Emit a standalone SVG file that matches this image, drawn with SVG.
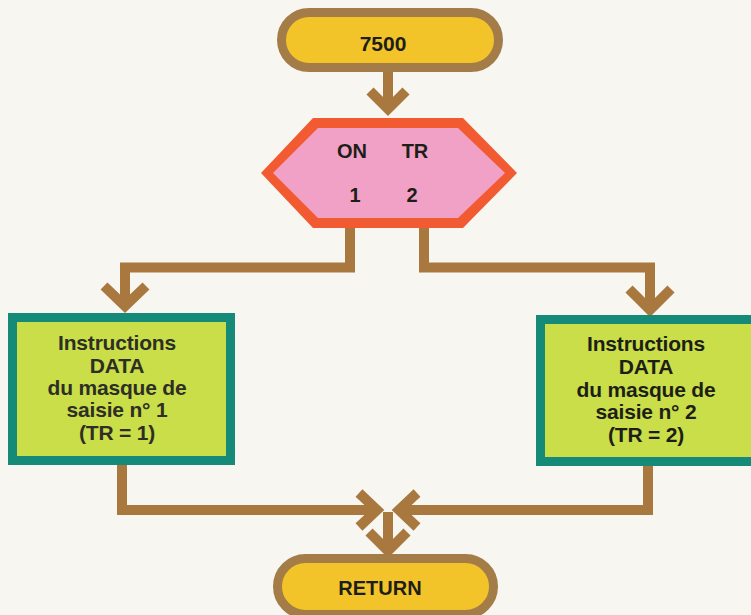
<svg xmlns="http://www.w3.org/2000/svg" width="751" height="615" viewBox="0 0 751 615">
  <style>
    .lbl { font-family: "Liberation Sans", Arial, sans-serif; font-weight: bold; text-anchor: middle; fill: #1e1e18; }
    .box-lbl { font-size: 21px; letter-spacing: -0.2px; }
    .soft { fill: #2e2e26; }
    .wire { fill: none; stroke: #a8783e; stroke-width: 10; stroke-linecap: butt; stroke-linejoin: miter; }
    .pill { fill: #f2c42a; stroke: #a47c48; stroke-width: 9; }
    .box { fill: #c9de48; stroke: #168a78; stroke-width: 9; }
  </style>
  <rect x="0" y="0" width="751" height="615" fill="#f7f6f1"/>

  <g id="connectors">
    <!-- start to decision -->
    <path class="wire" d="M388 72 V110"/>
    <path class="wire" d="M370 91 L388 109 L406 91"/>
    <!-- decision to branch 1 -->
    <path class="wire" d="M350 228 V267.5 H125 V305"/>
    <path class="wire" d="M104 286 L125 306 L146 286"/>
    <!-- decision to branch 2 -->
    <path class="wire" d="M424 228 V267.5 H650 V310"/>
    <path class="wire" d="M629 289 L650 310 L671 289"/>
    <!-- branch 1 to merge -->
    <path class="wire" d="M122 465 V510 H378"/>
    <path class="wire" d="M359 493 L377 510 L359 527"/>
    <!-- branch 2 to merge -->
    <path class="wire" d="M648 466 V510 H399"/>
    <path class="wire" d="M417 493 L399 510 L417 527"/>
    <!-- merge to return -->
    <path class="wire" d="M388 512 V551"/>
    <path class="wire" d="M369 532 L388 551 L407 532"/>
  </g>

  <g id="start">
    <rect class="pill" x="281.5" y="12.5" width="217" height="55" rx="27.5"/>
    <text class="lbl" x="383" y="51" font-size="21">7500</text>
  </g>

  <g id="decision">
    <polygon points="313,118 463,118 517,173 463,228 313,228 261,173" fill="#f25a32"/>
    <polygon points="318,128 458,128 505,173 458,218 318,218 273,173" fill="#f1a0c6"/>
    <text class="lbl" x="352" y="158" font-size="20">ON</text>
    <text class="lbl" x="415" y="158" font-size="20">TR</text>
    <text class="lbl" x="355" y="202" font-size="20">1</text>
    <text class="lbl" x="412" y="202" font-size="20">2</text>
  </g>

  <g id="branch1">
    <rect class="box" x="12.5" y="317.5" width="218" height="143"/>
    <text class="lbl box-lbl soft" x="117" y="350">Instructions</text>
    <text class="lbl box-lbl soft" x="117" y="373">DATA</text>
    <text class="lbl box-lbl soft" x="117" y="395">du masque de</text>
    <text class="lbl box-lbl soft" x="117" y="417">saisie n° 1</text>
    <text class="lbl box-lbl soft" x="117" y="440">(TR = 1)</text>
  </g>

  <g id="branch2">
    <rect class="box" x="540.5" y="319.5" width="220" height="142"/>
    <text class="lbl box-lbl" x="646" y="351">Instructions</text>
    <text class="lbl box-lbl" x="646" y="374">DATA</text>
    <text class="lbl box-lbl" x="646" y="397">du masque de</text>
    <text class="lbl box-lbl" x="646" y="419">saisie n° 2</text>
    <text class="lbl box-lbl" x="646" y="442">(TR = 2)</text>
  </g>

  <g id="return">
    <rect class="pill" x="277.5" y="558.5" width="216" height="56" rx="28"/>
    <text class="lbl" x="380" y="595" font-size="20">RETURN</text>
  </g>
</svg>
